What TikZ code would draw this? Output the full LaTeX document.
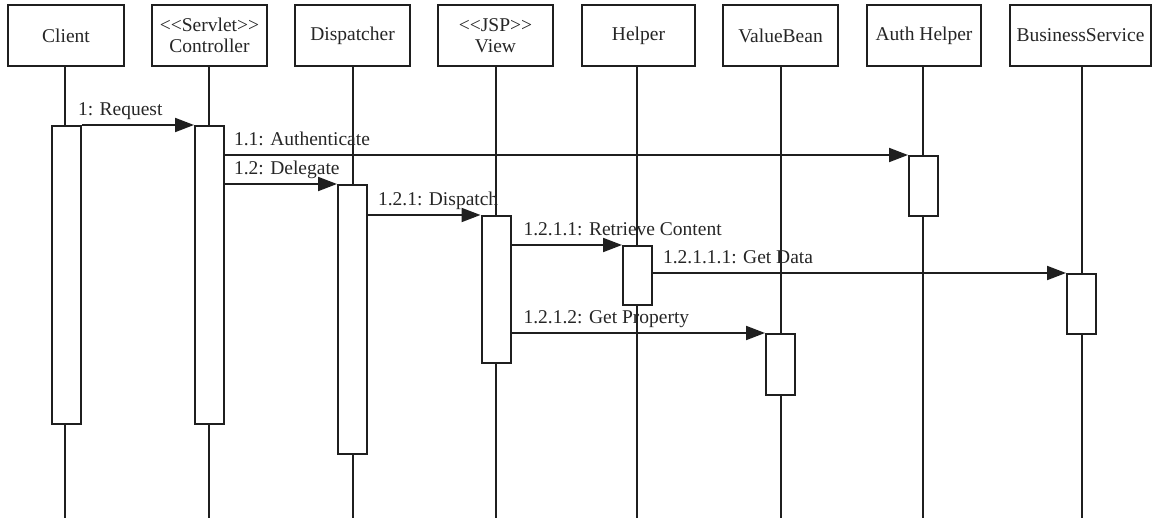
\documentclass[tikz,border=0pt]{standalone}
\usepackage{fontspec}
\setmainfont{Liberation Serif}
\usetikzlibrary{arrows.meta}

\begin{document}
\begin{tikzpicture}[x=1pt, y=-1pt,
  every node/.style={font=\fontsize{19.5}{20.5}\selectfont},
  head/.style={draw, line width=2pt, draw=black!88, fill=white, minimum height=61pt,
    minimum width=115pt, inner sep=0pt, align=center, text=black!85},
  life/.style={line width=2pt, draw=black!88},
  act/.style={draw, line width=2pt, draw=black!88, fill=white,
    minimum width=29pt, inner sep=0pt},
  msg/.style={line width=2pt, draw=black!88,
    -{Triangle[length=19pt, width=14pt]}},
  lbl/.style={anchor=base west, inner sep=0pt, yshift=9.5pt, text=black!85}
]
\useasboundingbox (0,0) rectangle (1161,518);

% object heads
\node[head, minimum width=116pt] (client) at (66,35.5) {Client};
\node[head] (ctrl) at (209.5,35.5) {<\kern0pt<Servlet>\kern0pt>\\Controller};
\node[head] (disp) at (352.5,35.5) {Dispatcher};
\node[head] (view) at (495.5,35.5) {<\kern0pt<JSP>\kern0pt>\\View};
\node[head, minimum width=113pt] (help) at (638.5,35.5) {Helper};
\node[head] (vb) at (780.5,35.5) {ValueBean};
\node[head, minimum width=114pt] (auth) at (924,35.5) {Auth Helper};
\node[head, minimum width=141pt] (bs) at (1080.5,35.5) {BusinessService};

% lifeline ends
\coordinate (eClient) at (65,518);
\coordinate (eCtrl) at (209,518);
\coordinate (eDisp) at (353,518);
\coordinate (eView) at (496,518);
\coordinate (eHelp) at (637,518);
\coordinate (eVB) at (781,518);
\coordinate (eAuth) at (923,518);
\coordinate (eBS) at (1082,518);

% lifelines
\draw[life] (eClient |- client.south) -- (eClient);
\draw[life] (eCtrl |- ctrl.south) -- (eCtrl);
\draw[life] (eDisp |- disp.south) -- (eDisp);
\draw[life] (eView |- view.south) -- (eView);
\draw[life] (eHelp |- help.south) -- (eHelp);
\draw[life] (eVB |- vb.south) -- (eVB);
\draw[life] (eAuth |- auth.south) -- (eAuth);
\draw[life] (eBS |- bs.south) -- (eBS);

% activation bars
\node[act, minimum height=298pt] (aClient) at (66.5,275) {};
\node[act, minimum height=298pt] (aCtrl) at (209.5,275) {};
\node[act, minimum height=269pt] (aDisp) at (352.5,319.5) {};
\node[act, minimum height=147pt] (aView) at (496,289.5) {};
\node[act, minimum height=59pt] (aHelp) at (637.5,275.5) {};
\node[act, minimum height=61pt] (aVB) at (780.5,364.5) {};
\node[act, minimum height=60pt] (aAuth) at (923.5,186) {};
\node[act, minimum height=60pt] (aBS) at (1081.5,304) {};

% messages
\draw[msg] (aClient.east |- aCtrl.north west) -- (aCtrl.north west)
  node[lbl, pos=0, xshift=-5pt] {1: Request};
\draw[msg] (aCtrl.east |- aAuth.north west) -- (aAuth.north west)
  node[lbl, pos=0, xshift=8pt] {1.1: Authenticate};
\draw[msg] (aCtrl.east |- aDisp.north west) -- (aDisp.north west)
  node[lbl, pos=0, xshift=8pt] {1.2: Delegate};
\draw[msg] (aDisp.east |- aView.north west) -- (aView.north west)
  node[lbl, pos=0, xshift=9pt] {1.2.1: Dispatch};
\draw[msg] (aView.east |- aHelp.north west) -- (aHelp.north west)
  node[lbl, pos=0, xshift=11pt] {1.2.1.1: Retrieve Content};
\draw[msg] (aHelp.east |- aBS.north west) -- (aBS.north west)
  node[lbl, pos=0, xshift=9pt] {1.2.1.1.1: Get Data};
\draw[msg] (aView.east |- aVB.north west) -- (aVB.north west)
  node[lbl, pos=0, xshift=11pt] {1.2.1.2: Get Property};
\end{tikzpicture}
\end{document}
